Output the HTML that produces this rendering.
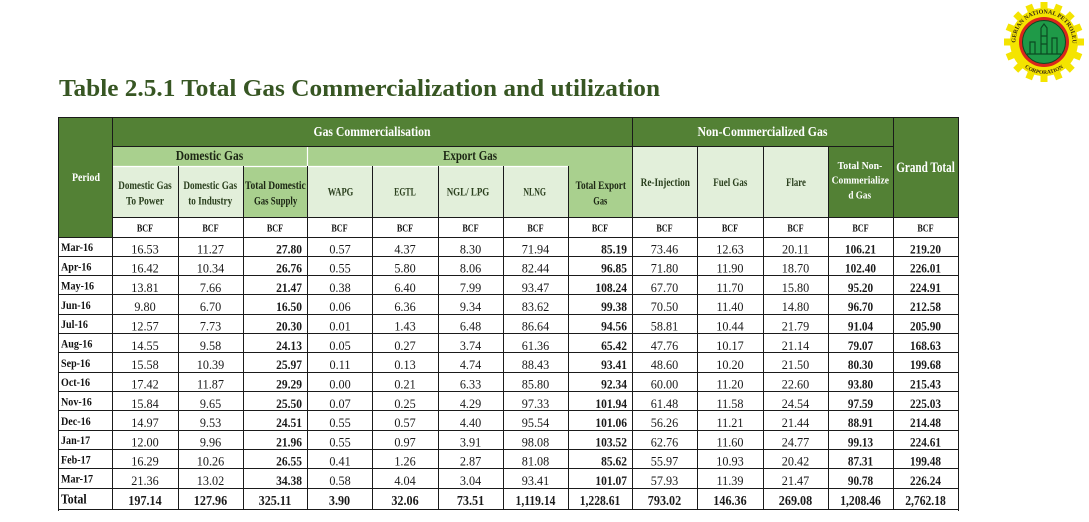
<!DOCTYPE html>
<html><head><meta charset="utf-8"><style>
html,body{margin:0;padding:0;background:#fff;}
svg{display:block;font-family:"Liberation Serif",serif;}
</style></head><body>
<svg width="1089" height="522" viewBox="0 0 1089 522" xmlns="http://www.w3.org/2000/svg">
<rect x="0" y="0" width="1089" height="522" fill="#fff"/>

<!-- Logo -->
<g transform="translate(1044 42)">
  <g fill="#f4e400">
    <circle r="34"/>
    <rect x="-3.5" y="-40" width="7" height="9" transform="rotate(0)"/>
    <rect x="-3.5" y="-40" width="7" height="9" transform="rotate(22.5)"/>
    <rect x="-3.5" y="-40" width="7" height="9" transform="rotate(45)"/>
    <rect x="-3.5" y="-40" width="7" height="9" transform="rotate(67.5)"/>
    <rect x="-3.5" y="-40" width="7" height="9" transform="rotate(90)"/>
    <rect x="-3.5" y="-40" width="7" height="9" transform="rotate(112.5)"/>
    <rect x="-3.5" y="-40" width="7" height="9" transform="rotate(135)"/>
    <rect x="-3.5" y="-40" width="7" height="9" transform="rotate(157.5)"/>
    <rect x="-3.5" y="-40" width="7" height="9" transform="rotate(180)"/>
    <rect x="-3.5" y="-40" width="7" height="9" transform="rotate(202.5)"/>
    <rect x="-3.5" y="-40" width="7" height="9" transform="rotate(225)"/>
    <rect x="-3.5" y="-40" width="7" height="9" transform="rotate(247.5)"/>
    <rect x="-3.5" y="-40" width="7" height="9" transform="rotate(270)"/>
    <rect x="-3.5" y="-40" width="7" height="9" transform="rotate(292.5)"/>
    <rect x="-3.5" y="-40" width="7" height="9" transform="rotate(315)"/>
    <rect x="-3.5" y="-40" width="7" height="9" transform="rotate(337.5)"/>
  </g>
  <defs>
    <path id="arcT" d="M -28.5 0 A 28.5 28.5 0 0 1 28.5 0"/>
    <path id="arcB" d="M -32 0 A 32 32 0 0 0 32 0"/>
  </defs>
  <text font-size="6" font-weight="bold" fill="#3a2a10"><textPath href="#arcT" startOffset="50%" text-anchor="middle">NIGERIAN NATIONAL PETROLEUM</textPath></text>
  <text font-size="5.5" font-weight="bold" fill="#3a2a10"><textPath href="#arcB" startOffset="50%" text-anchor="middle">CORPORATION</textPath></text>
  <circle r="25" fill="#d9261c"/>
  <circle r="21.5" fill="#1f9a48" stroke="#0b4a22" stroke-width="1"/>
  <g stroke="#0b4a22" stroke-width="1.2" fill="none">
    <path d="M -3 -14 L 0 -18 L 3 -14 L 3 12 M -3 -14 L -3 12 M -3 -6 L 3 -6 M -3 2 L 3 2"/>
    <path d="M -14 12 L -14 0 L -9 0 L -9 12 M 8 12 L 8 -4 L 13 -4 L 13 12 M -17 12 L 17 12"/>
  </g>
</g>

<!-- Title -->
<text x="59" y="96" font-size="24" font-weight="bold" fill="#375623" textLength="601" lengthAdjust="spacingAndGlyphs">Table 2.5.1 Total Gas Commercialization and utilization</text>

<!-- Header backgrounds -->
<rect x="58" y="117" width="54" height="120" fill="#538135"/>
<rect x="112" y="117" width="781" height="29" fill="#538135"/>
<rect x="893" y="117" width="65" height="100" fill="#538135"/>
<rect x="112" y="146" width="520" height="20" fill="#a9d08e"/>
<rect x="112" y="166" width="520" height="51" fill="#e2efda"/>
<rect x="243" y="166" width="64" height="51" fill="#a9d08e"/>
<rect x="568" y="166" width="64" height="51" fill="#a9d08e"/>
<rect x="632" y="146" width="196" height="71" fill="#e2efda"/>
<rect x="828" y="146" width="65" height="71" fill="#538135"/>

<!-- Header light lines -->
<g stroke="#ffffff" stroke-width="1.2">
  <line x1="112" y1="166.5" x2="568" y2="166.5"/>
  <line x1="307.5" y1="146" x2="307.5" y2="166"/>
</g>

<!-- Header dark lines -->
<g stroke="#1a1a1a" stroke-width="1">
  <line x1="112" y1="146.5" x2="893" y2="146.5"/>
  <line x1="632.5" y1="117" x2="632.5" y2="217"/>
  <line x1="178.5" y1="166" x2="178.5" y2="217"/>
  <line x1="243.5" y1="166" x2="243.5" y2="217"/>
  <line x1="307.5" y1="166" x2="307.5" y2="217"/>
  <line x1="372.5" y1="166" x2="372.5" y2="217"/>
  <line x1="438.5" y1="166" x2="438.5" y2="217"/>
  <line x1="503.5" y1="166" x2="503.5" y2="217"/>
  <line x1="568.5" y1="166" x2="568.5" y2="217"/>
  <line x1="697.5" y1="146" x2="697.5" y2="217"/>
  <line x1="763.5" y1="146" x2="763.5" y2="217"/>
  <line x1="828.5" y1="146" x2="828.5" y2="217"/>
  <line x1="112" y1="217.5" x2="958" y2="217.5"/>
  <!-- vertical body lines -->
  <line x1="112.5" y1="117" x2="112.5" y2="509"/>
  <line x1="178.5" y1="217" x2="178.5" y2="509"/>
  <line x1="243.5" y1="217" x2="243.5" y2="509"/>
  <line x1="307.5" y1="217" x2="307.5" y2="509"/>
  <line x1="372.5" y1="217" x2="372.5" y2="509"/>
  <line x1="438.5" y1="217" x2="438.5" y2="509"/>
  <line x1="503.5" y1="217" x2="503.5" y2="509"/>
  <line x1="568.5" y1="217" x2="568.5" y2="509"/>
  <line x1="632.5" y1="217" x2="632.5" y2="509"/>
  <line x1="697.5" y1="217" x2="697.5" y2="509"/>
  <line x1="763.5" y1="217" x2="763.5" y2="509"/>
  <line x1="828.5" y1="217" x2="828.5" y2="509"/>
  <line x1="893.5" y1="117" x2="893.5" y2="509"/>
  <!-- horizontal body lines -->
  <line x1="58" y1="237.5" x2="958" y2="237.5"/>
  <line x1="58" y1="256.5" x2="958" y2="256.5"/>
  <line x1="58" y1="275.5" x2="958" y2="275.5"/>
  <line x1="58" y1="294.5" x2="958" y2="294.5"/>
  <line x1="58" y1="314.5" x2="958" y2="314.5"/>
  <line x1="58" y1="333.5" x2="958" y2="333.5"/>
  <line x1="58" y1="352.5" x2="958" y2="352.5"/>
  <line x1="58" y1="372.5" x2="958" y2="372.5"/>
  <line x1="58" y1="391.5" x2="958" y2="391.5"/>
  <line x1="58" y1="410.5" x2="958" y2="410.5"/>
  <line x1="58" y1="430.5" x2="958" y2="430.5"/>
  <line x1="58" y1="449.5" x2="958" y2="449.5"/>
  <line x1="58" y1="468.5" x2="958" y2="468.5"/>
  <line x1="58" y1="488.5" x2="958" y2="488.5"/>
  <!-- outer border -->
  <line x1="58.5" y1="117" x2="58.5" y2="511"/>
  <line x1="958.5" y1="117" x2="958.5" y2="511"/>
  <line x1="58" y1="117.5" x2="959" y2="117.5"/>
  <line x1="58" y1="509.5" x2="959" y2="509.5"/>
</g>

<!-- Header texts -->
<g font-weight="bold" text-anchor="middle" lengthAdjust="spacingAndGlyphs">
  <text x="372" y="136" font-size="14" fill="#fff" textLength="117" lengthAdjust="spacingAndGlyphs">Gas Commercialisation</text>
  <text x="762.5" y="136" font-size="14" fill="#fff" textLength="130" lengthAdjust="spacingAndGlyphs">Non-Commercialized Gas</text>
  <text x="925.5" y="172" font-size="15" fill="#fff" textLength="58.6" lengthAdjust="spacingAndGlyphs">Grand Total</text>
  <text x="86" y="181" font-size="12" fill="#fff" textLength="28" lengthAdjust="spacingAndGlyphs">Period</text>
  <text x="209.5" y="160" font-size="14" fill="#1c2614" textLength="67.6" lengthAdjust="spacingAndGlyphs">Domestic Gas</text>
  <text x="470" y="160" font-size="14" fill="#1c2614" textLength="54" lengthAdjust="spacingAndGlyphs">Export Gas</text>

  <g fill="#2a3f1d" font-size="11.5">
    <text x="145" y="189" textLength="53.4" lengthAdjust="spacingAndGlyphs">Domestic Gas</text>
    <text x="145" y="204.3" textLength="38" lengthAdjust="spacingAndGlyphs">To Power</text>
    <text x="210.2" y="189" textLength="53.7" lengthAdjust="spacingAndGlyphs">Domestic Gas</text>
    <text x="210.2" y="204.3" textLength="44" lengthAdjust="spacingAndGlyphs">to Industry</text>
    <text x="275.4" y="189" textLength="60.7" lengthAdjust="spacingAndGlyphs" fill="#1c2614">Total Domestic</text>
    <text x="275.6" y="204.3" textLength="43.3" lengthAdjust="spacingAndGlyphs" fill="#1c2614">Gas Supply</text>
    <text x="340.5" y="195.5" textLength="25.6" lengthAdjust="spacingAndGlyphs">WAPG</text>
    <text x="405" y="195.5" textLength="21.7" lengthAdjust="spacingAndGlyphs">EGTL</text>
    <text x="468" y="195.5" textLength="42.6" lengthAdjust="spacingAndGlyphs">NGL/ LPG</text>
    <text x="534.7" y="195.5" textLength="22.7" lengthAdjust="spacingAndGlyphs">NLNG</text>
    <text x="600.8" y="189" textLength="50.3" lengthAdjust="spacingAndGlyphs" fill="#1c2614">Total Export</text>
    <text x="600.3" y="204.3" textLength="14" lengthAdjust="spacingAndGlyphs" fill="#1c2614">Gas</text>
    <text x="665.3" y="186" textLength="49.3" lengthAdjust="spacingAndGlyphs">Re-Injection</text>
    <text x="730.3" y="186" textLength="34" lengthAdjust="spacingAndGlyphs">Fuel Gas</text>
    <text x="796" y="186" textLength="19.7" lengthAdjust="spacingAndGlyphs">Flare</text>
  </g>
  <g fill="#fff" font-size="11">
    <text x="860" y="169" textLength="44.7" lengthAdjust="spacingAndGlyphs">Total Non-</text>
    <text x="860.3" y="183.3" textLength="57.3" lengthAdjust="spacingAndGlyphs">Commerialize</text>
    <text x="859.7" y="198.3" textLength="22.7" lengthAdjust="spacingAndGlyphs">d Gas</text>
  </g>
  <g fill="#111" font-size="11">
    <text x="145" y="231.5" textLength="16.3" lengthAdjust="spacingAndGlyphs">BCF</text>
    <text x="210.5" y="231.5" textLength="16.3" lengthAdjust="spacingAndGlyphs">BCF</text>
    <text x="275" y="231.5" textLength="16.3" lengthAdjust="spacingAndGlyphs">BCF</text>
    <text x="339.5" y="231.5" textLength="16.3" lengthAdjust="spacingAndGlyphs">BCF</text>
    <text x="405" y="231.5" textLength="16.3" lengthAdjust="spacingAndGlyphs">BCF</text>
    <text x="470.5" y="231.5" textLength="16.3" lengthAdjust="spacingAndGlyphs">BCF</text>
    <text x="535.5" y="231.5" textLength="16.3" lengthAdjust="spacingAndGlyphs">BCF</text>
    <text x="600" y="231.5" textLength="16.3" lengthAdjust="spacingAndGlyphs">BCF</text>
    <text x="664.5" y="231.5" textLength="16.3" lengthAdjust="spacingAndGlyphs">BCF</text>
    <text x="730" y="231.5" textLength="16.3" lengthAdjust="spacingAndGlyphs">BCF</text>
    <text x="795.5" y="231.5" textLength="16.3" lengthAdjust="spacingAndGlyphs">BCF</text>
    <text x="860.5" y="231.5" textLength="16.3" lengthAdjust="spacingAndGlyphs">BCF</text>
    <text x="925.5" y="231.5" textLength="16.3" lengthAdjust="spacingAndGlyphs">BCF</text>
  </g>
</g>

<!-- Period labels -->
<g transform="translate(61 0) scale(0.84 1)" font-weight="bold" font-size="12" fill="#111">
  <text y="251">Mar-16</text>
  <text y="270.3">Apr-16</text>
  <text y="289.6">May-16</text>
  <text y="308.9">Jun-16</text>
  <text y="328.2">Jul-16</text>
  <text y="347.6">Aug-16</text>
  <text y="366.9">Sep-16</text>
  <text y="386.2">Oct-16</text>
  <text y="405.5">Nov-16</text>
  <text y="424.8">Dec-16</text>
  <text y="444.1">Jan-17</text>
  <text y="463.4">Feb-17</text>
  <text y="482.7">Mar-17</text>
  <text y="503.5" font-size="14">Total</text>
</g>

<!-- Data columns -->
<g font-size="13" fill="#1a1a1a" text-anchor="middle">
<g transform="translate(145 0) scale(0.94 1)">
  <text y="253.3">16.53</text><text y="272.6">16.42</text><text y="291.9">13.81</text><text y="311.2">9.80</text><text y="330.5">12.57</text><text y="349.9">14.55</text><text y="369.2">15.58</text><text y="388.5">17.42</text><text y="407.8">15.84</text><text y="427.1">14.97</text><text y="446.4">12.00</text><text y="465.7">16.29</text><text y="485">21.36</text>
</g>
<g transform="translate(210.5 0) scale(0.94 1)">
  <text y="253.3">11.27</text><text y="272.6">10.34</text><text y="291.9">7.66</text><text y="311.2">6.70</text><text y="330.5">7.73</text><text y="349.9">9.58</text><text y="369.2">10.39</text><text y="388.5">11.87</text><text y="407.8">9.65</text><text y="427.1">9.53</text><text y="446.4">9.96</text><text y="465.7">10.26</text><text y="485">13.02</text>
</g>
<g transform="translate(302 0) scale(0.92 1)" text-anchor="end" font-weight="bold" font-size="12.5">
  <text y="253.3">27.80</text><text y="272.6">26.76</text><text y="291.9">21.47</text><text y="311.2">16.50</text><text y="330.5">20.30</text><text y="349.9">24.13</text><text y="369.2">25.97</text><text y="388.5">29.29</text><text y="407.8">25.50</text><text y="427.1">24.51</text><text y="446.4">21.96</text><text y="465.7">26.55</text><text y="485">34.38</text>
</g>
<g transform="translate(340 0) scale(0.94 1)">
  <text y="253.3">0.57</text><text y="272.6">0.55</text><text y="291.9">0.38</text><text y="311.2">0.06</text><text y="330.5">0.01</text><text y="349.9">0.05</text><text y="369.2">0.11</text><text y="388.5">0.00</text><text y="407.8">0.07</text><text y="427.1">0.55</text><text y="446.4">0.55</text><text y="465.7">0.41</text><text y="485">0.58</text>
</g>
<g transform="translate(405 0) scale(0.94 1)">
  <text y="253.3">4.37</text><text y="272.6">5.80</text><text y="291.9">6.40</text><text y="311.2">6.36</text><text y="330.5">1.43</text><text y="349.9">0.27</text><text y="369.2">0.13</text><text y="388.5">0.21</text><text y="407.8">0.25</text><text y="427.1">0.57</text><text y="446.4">0.97</text><text y="465.7">1.26</text><text y="485">4.04</text>
</g>
<g transform="translate(470.5 0) scale(0.94 1)">
  <text y="253.3">8.30</text><text y="272.6">8.06</text><text y="291.9">7.99</text><text y="311.2">9.34</text><text y="330.5">6.48</text><text y="349.9">3.74</text><text y="369.2">4.74</text><text y="388.5">6.33</text><text y="407.8">4.29</text><text y="427.1">4.40</text><text y="446.4">3.91</text><text y="465.7">2.87</text><text y="485">3.04</text>
</g>
<g transform="translate(535.5 0) scale(0.94 1)">
  <text y="253.3">71.94</text><text y="272.6">82.44</text><text y="291.9">93.47</text><text y="311.2">83.62</text><text y="330.5">86.64</text><text y="349.9">61.36</text><text y="369.2">88.43</text><text y="388.5">85.80</text><text y="407.8">97.33</text><text y="427.1">95.54</text><text y="446.4">98.08</text><text y="465.7">81.08</text><text y="485">93.41</text>
</g>
<g transform="translate(627 0) scale(0.92 1)" text-anchor="end" font-weight="bold" font-size="12.5">
  <text y="253.3">85.19</text><text y="272.6">96.85</text><text y="291.9">108.24</text><text y="311.2">99.38</text><text y="330.5">94.56</text><text y="349.9">65.42</text><text y="369.2">93.41</text><text y="388.5">92.34</text><text y="407.8">101.94</text><text y="427.1">101.06</text><text y="446.4">103.52</text><text y="465.7">85.62</text><text y="485">101.07</text>
</g>
<g transform="translate(664.5 0) scale(0.94 1)">
  <text y="253.3">73.46</text><text y="272.6">71.80</text><text y="291.9">67.70</text><text y="311.2">70.50</text><text y="330.5">58.81</text><text y="349.9">47.76</text><text y="369.2">48.60</text><text y="388.5">60.00</text><text y="407.8">61.48</text><text y="427.1">56.26</text><text y="446.4">62.76</text><text y="465.7">55.97</text><text y="485">57.93</text>
</g>
<g transform="translate(730 0) scale(0.94 1)">
  <text y="253.3">12.63</text><text y="272.6">11.90</text><text y="291.9">11.70</text><text y="311.2">11.40</text><text y="330.5">10.44</text><text y="349.9">10.17</text><text y="369.2">10.20</text><text y="388.5">11.20</text><text y="407.8">11.58</text><text y="427.1">11.21</text><text y="446.4">11.60</text><text y="465.7">10.93</text><text y="485">11.39</text>
</g>
<g transform="translate(795.5 0) scale(0.94 1)">
  <text y="253.3">20.11</text><text y="272.6">18.70</text><text y="291.9">15.80</text><text y="311.2">14.80</text><text y="330.5">21.79</text><text y="349.9">21.14</text><text y="369.2">21.50</text><text y="388.5">22.60</text><text y="407.8">24.54</text><text y="427.1">21.44</text><text y="446.4">24.77</text><text y="465.7">20.42</text><text y="485">21.47</text>
</g>
<g transform="translate(860.5 0) scale(0.9 1)" font-weight="bold" font-size="12.5">
  <text y="253.3">106.21</text><text y="272.6">102.40</text><text y="291.9">95.20</text><text y="311.2">96.70</text><text y="330.5">91.04</text><text y="349.9">79.07</text><text y="369.2">80.30</text><text y="388.5">93.80</text><text y="407.8">97.59</text><text y="427.1">88.91</text><text y="446.4">99.13</text><text y="465.7">87.31</text><text y="485">90.78</text>
</g>
<g transform="translate(925.5 0) scale(0.9 1)" font-weight="bold" font-size="12.5">
  <text y="253.3">219.20</text><text y="272.6">226.01</text><text y="291.9">224.91</text><text y="311.2">212.58</text><text y="330.5">205.90</text><text y="349.9">168.63</text><text y="369.2">199.68</text><text y="388.5">215.43</text><text y="407.8">225.03</text><text y="427.1">214.48</text><text y="446.4">224.61</text><text y="465.7">199.48</text><text y="485">226.24</text>
</g>

<!-- Total row -->
<g font-size="13.5" font-weight="bold">
  <text transform="translate(145 505) scale(0.9 1)">197.14</text>
  <text transform="translate(210.5 505) scale(0.9 1)">127.96</text>
  <text transform="translate(275 505) scale(0.9 1)">325.11</text>
  <text transform="translate(339.5 505) scale(0.9 1)">3.90</text>
  <text transform="translate(405 505) scale(0.9 1)">32.06</text>
  <text transform="translate(470.5 505) scale(0.9 1)">73.51</text>
  <text transform="translate(535.5 505) scale(0.86 1)">1,119.14</text>
  <text transform="translate(600 505) scale(0.86 1)">1,228.61</text>
  <text transform="translate(664.5 505) scale(0.9 1)">793.02</text>
  <text transform="translate(730 505) scale(0.9 1)">146.36</text>
  <text transform="translate(795.5 505) scale(0.9 1)">269.08</text>
  <text transform="translate(860.5 505) scale(0.86 1)">1,208.46</text>
  <text transform="translate(925.5 505) scale(0.86 1)">2,762.18</text>
</g>
</g>
</svg>
</body></html>
